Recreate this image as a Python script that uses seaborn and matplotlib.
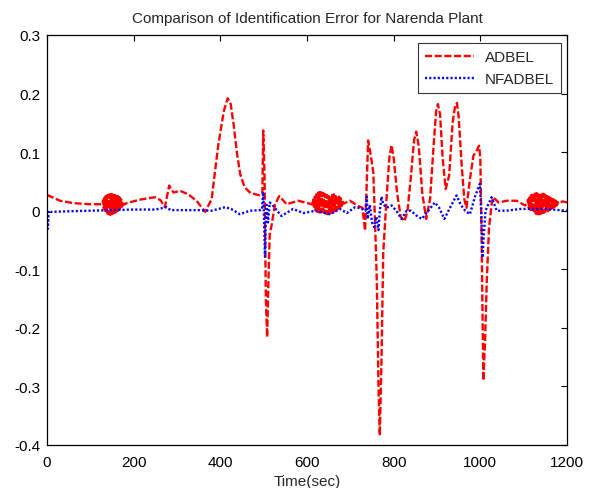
import numpy as np
import pandas as pd
import seaborn as sns
import matplotlib
matplotlib.use("Agg")
import matplotlib.pyplot as plt
from matplotlib.ticker import FixedLocator, FuncFormatter

# ---------------- data ----------------
adbel_t = [0, 15, 30, 60, 100, 125,
           128, 129.5, 131, 132.5, 134, 135.5, 137, 138.5, 140, 141.5, 143, 144.5,
           146, 147.5, 149, 150.5, 152, 153.5, 155, 156.5, 158, 159.5, 161, 162.5,
           164, 165.5, 167, 168.5, 170, 171.5, 173, 174.5, 176,
           184, 215, 249, 262, 272, 282, 292, 307, 326, 345, 365, 380, 395, 408,
           417, 424, 431, 438, 446, 456, 470, 492, 497, 499, 502, 505, 508, 511,
           514, 518, 526, 536, 553, 580, 611,
           612, 614, 616, 618, 620, 622, 624, 626, 628, 630, 632, 634, 636, 638,
           640, 642, 644, 646, 648, 650, 652, 654, 656, 658, 660, 662, 664, 666,
           668, 670, 672, 674, 676, 678, 680, 682, 684,
           699, 718, 728, 734, 738, 741, 746, 753, 757, 761, 765, 768, 772, 776,
           784, 790, 795, 800, 808, 816, 825, 832, 840, 847, 852, 858, 866, 875,
           884, 893, 898, 902, 907, 913, 920, 928, 936, 942, 946, 950, 957, 963,
           968, 976, 984, 990, 997, 1000, 1003, 1007, 1011, 1015, 1020, 1026,
           1030, 1042, 1061, 1084, 1103,
           1108, 1110, 1112, 1114, 1116, 1118, 1120, 1122, 1124, 1126, 1128, 1130,
           1132, 1134, 1136, 1138, 1140, 1142, 1144, 1146, 1148, 1150, 1152, 1154,
           1156, 1158, 1160, 1162, 1164, 1166, 1168, 1170, 1172, 1174, 1176, 1178,
           1180, 1190, 1200]
adbel_e = [0.027, 0.022, 0.017, 0.013, 0.011, 0.011,
           0.012, 0.018, 0.004, 0.022, 0.000, 0.025, -0.003, 0.026, -0.005, 0.027,
           -0.006, 0.028, -0.007, 0.028, -0.006, 0.028, -0.005, 0.027, -0.004,
           0.027, -0.003, 0.026, -0.001, 0.025, 0.000, 0.024, 0.002, 0.022, 0.004,
           0.019, 0.007, 0.015, 0.010,
           0.013, 0.019, 0.023, 0.018, 0.006, 0.043, 0.031, 0.034, 0.028, 0.017,
           -0.002, 0.020, 0.111, 0.170, 0.192, 0.182, 0.145, 0.100, 0.062, 0.040,
           0.030, 0.026, 0.030, 0.137, 0.060, -0.150, -0.216, -0.120, -0.040,
           -0.026, 0.010, 0.025, 0.011, 0.017, 0.011,
           0.012, 0.019, 0.004, 0.024, 0.000, 0.028, -0.002, 0.031, -0.003, 0.032,
           -0.003, 0.031, -0.002, 0.030, -0.004, 0.028, -0.005, 0.027, -0.006,
           0.025, -0.005, 0.026, -0.004, 0.027, -0.003, 0.028, -0.001, 0.027,
           0.001, 0.026, 0.003, 0.024, 0.005, 0.021, 0.008, 0.017, 0.012,
           0.017, 0.008, 0.005, -0.034, 0.050, 0.120, 0.100, 0.066, -0.020,
           -0.117, -0.300, -0.384, -0.250, -0.071, 0.026, 0.090, 0.112, 0.090,
           0.030, -0.010, -0.018, 0.000, 0.060, 0.120, 0.135, 0.110, 0.030,
           -0.014, 0.020, 0.120, 0.170, 0.182, 0.165, 0.090, 0.037, 0.060, 0.150,
           0.180, 0.184, 0.160, 0.077, 0.020, 0.005, 0.054, 0.094, 0.100, 0.111,
           0.090, -0.050, -0.290, -0.220, -0.117, -0.030, 0.011,
           0.023, 0.014, 0.017, 0.017, 0.009,
           0.012, 0.019, 0.005, 0.023, 0.001, 0.027, -0.002, 0.030, -0.004, 0.031,
           -0.005, 0.030, -0.006, 0.028, -0.006, 0.027, -0.005, 0.028, -0.004,
           0.029, -0.003, 0.027, -0.002, 0.025, -0.001, 0.024, 0.001, 0.022,
           0.003, 0.020, 0.005, 0.019, 0.007, 0.017, 0.009, 0.015, 0.012,
           0.016, 0.014]

nfadbel_t = [0, 2, 4, 8, 50, 100, 150, 200, 250, 276, 285, 300, 350, 380, 411,
             425, 445, 468, 492, 496, 499, 501, 503, 505, 507, 510, 514, 520,
             541, 568, 592, 620, 653, 676, 692, 711, 725, 735, 738, 740, 745,
             750, 755, 760, 765, 768, 772, 776, 784, 795, 806, 818, 830, 840,
             852, 865, 880, 895, 905, 917, 930, 945, 955, 965, 976, 988, 999,
             1002, 1005, 1008, 1012, 1018, 1026, 1038, 1060, 1092, 1150, 1200]
nfadbel_e = [0.000, -0.031, 0.000, -0.002, -0.001, 0.000, 0.001, 0.002, 0.002,
             0.006, 0.001, 0.001, 0.001, 0.000, 0.006, 0.003, -0.006, 0.000,
             0.001, 0.002, 0.032, -0.020, -0.078, -0.010, 0.010, -0.020, 0.014,
             0.010, -0.009, 0.003, -0.004, 0.000, -0.006, 0.003, -0.004, 0.006,
             0.004, 0.000, 0.024, -0.014, 0.010, -0.020, -0.028, -0.010, -0.033,
             0.000, 0.024, 0.011, 0.005, 0.009, 0.000, -0.014, 0.000, 0.000,
             -0.008, -0.014, 0.000, 0.014, 0.005, -0.014, 0.005, 0.026, 0.010,
             0.000, -0.006, 0.025, 0.046, 0.000, -0.080, -0.040, 0.000, 0.010,
             0.023, 0.000, 0.000, 0.003, 0.003, 0.000]

series_names = ["ADBEL", "NFADBEL"]
x_ticks = [0, 200, 400, 600, 800, 1000, 1200]
y_ticks = [-0.4, -0.3, -0.2, -0.1, 0, 0.1, 0.2, 0.3]
title = "Comparison of Identification Error for Narenda Plant"
x_label = "Time(sec)"

# ---------------- styling ----------------
sns.set_style("white")
plt.rcParams["font.family"] = ["Liberation Sans", "DejaVu Sans"]
plt.rcParams["axes.unicode_minus"] = False
plt.rcParams["xtick.direction"] = "in"
plt.rcParams["ytick.direction"] = "in"

FS = 11
LW = 1.7
DASH = (3.0, 1.1)
DOT = (0.9, 0.9)

fig = plt.figure(figsize=(5.95, 4.89), dpi=100)
ax = fig.add_axes([47 / 595, 1 - 446 / 489, 520 / 595, 410 / 489])

df_a = pd.DataFrame({"t": adbel_t, "e": adbel_e})
df_n = pd.DataFrame({"t": nfadbel_t, "e": nfadbel_e})

sns.lineplot(data=df_a, x="t", y="e", ax=ax, color="#ff0000", lw=LW,
             estimator=None, label=series_names[0], dashes=False)
sns.lineplot(data=df_n, x="t", y="e", ax=ax, color="#0000ff", lw=LW,
             estimator=None, label=series_names[1], dashes=False)
ax.lines[0].set_dashes(DASH)
ax.lines[1].set_dashes(DOT)

ax.set_xlim(0, 1200)
ax.set_ylim(-0.4, 0.3)
ax.xaxis.set_major_locator(FixedLocator(x_ticks))
ax.yaxis.set_major_locator(FixedLocator(y_ticks))
ax.yaxis.set_major_formatter(FuncFormatter(lambda v, p: f"{v:g}"))
ax.tick_params(axis="both", which="major", direction="in", length=4, width=0.8,
               top=True, right=True, labelsize=FS, colors="black")
ax.tick_params(axis="x", pad=7)
ax.tick_params(axis="y", pad=5)
for s in ax.spines.values():
    s.set_visible(True)
    s.set_color("black")
    s.set_linewidth(0.9)

ax.set_xlabel(x_label, fontsize=FS, labelpad=4)
ax.set_ylabel("")
ax.set_title(title, fontsize=FS, pad=9)

leg = ax.legend(loc="upper right", bbox_to_anchor=(1 - 6 / 520, 1 - 8 / 410),
                borderaxespad=0, frameon=True, fancybox=False, fontsize=FS,
                handlelength=3.2, handletextpad=0.7, labelspacing=0.55,
                borderpad=0.45)
leg.get_frame().set_edgecolor("black")
leg.get_frame().set_linewidth(0.8)
for h in leg.get_lines():
    h.set_linewidth(LW)
leg.get_lines()[0].set_dashes(DASH)
leg.get_lines()[1].set_dashes(DOT)

fig.savefig("out.png", dpi=100, facecolor="white")
